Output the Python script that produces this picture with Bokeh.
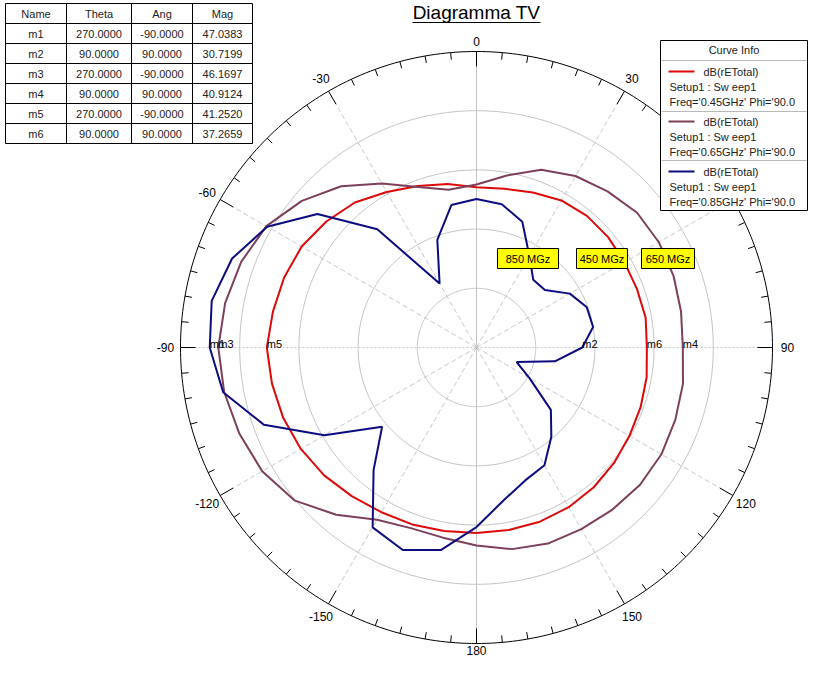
import numpy as np
from bokeh.plotting import figure
from bokeh.models import Range1d
from bokeh.core.properties import value
from bokeh.embed import file_html
from bokeh.resources import INLINE

# ---------------- data ----------------
theta_deg = list(range(-180, 180, 10))

red_db = [38.79, 38.89, 39.08, 39.28, 39.67, 40.16, 40.56, 40.85, 41.05, 41.252,
          40.95, 40.75, 40.46, 39.87, 39.18, 38.20, 37.41, 36.82, 36.23, 36.33,
          36.72, 37.21, 37.41, 37.41, 37.31, 37.31, 37.41, 37.2659, 37.51, 37.70,
          37.90, 38.20, 38.49, 38.69, 38.79, 38.79]
purple_db = [40.07, 39.57, 39.48, 40.16, 42.13, 44.10, 45.08, 45.57, 45.97, 46.1697,
             45.87, 45.38, 44.59, 43.11, 41.34, 39.18, 37.31, 36.23, 36.52, 37.70,
             39.18, 40.07, 40.66, 41.25, 41.34, 41.25, 41.05, 40.9124, 41.25, 41.44,
             41.64, 41.64, 41.44, 41.25, 41.15, 40.75]
blue_db = [38.20, 40.85, 41.84, 41.05, 36.23, 32.49, 37.80, 42.92, 46.07, 47.0383,
           47.25, 46.36, 44.49, 41.05, 35.64, 27.48, 31.61, 34.66, 35.05, 34.75,
           33.57, 30.72, 28.95, 29.05, 30.92, 31.90, 32.00, 30.7199, 28.07, 24.33,
           26.20, 29.84, 31.80, 33.77, 34.36, 35.74]

series_names = ["dB(rETotal)", "dB(rETotal)", "dB(rETotal)"]
series_freq = ["0.45GHz", "0.65GHz", "0.85GHz"]
series_tags = ["450 MGz", "650 MGz", "850 MGz"]

marker_names = ["m1", "m2", "m3", "m4", "m5", "m6"]
marker_theta = [270, 90, 270, 90, 270, 90]
marker_ang = [-90, 90, -90, 90, -90, 90]
marker_mag = [47.0383, 30.7199, 46.1697, 40.9124, 41.2520, 37.2659]

angle_labels = [0, 30, 60, 90, 120, 150, -150, -120, -90, -60, -30]
bottom_label = "180"
r_min, r_max = 20.0, 50.0
ring_values = [26, 32, 38, 44, 50]

# ---------------- geometry helpers ----------------
W, H = 811, 658
R_PX = 296.0
S = R_PX / (r_max - r_min)
CX, CY = 476, 347  # picture position of the polar centre


def pol(theta, db):
    t = np.radians(np.asarray(theta, dtype=float))
    r = (np.asarray(db, dtype=float) - r_min) * S
    return r * np.sin(t), r * np.cos(t)


def P(px, py):
    return px - CX, CY - py


p = figure(width=W, height=H, x_range=Range1d(-CX, W - CX),
           y_range=Range1d(CY - H, CY), output_backend="svg",
           toolbar_location=None, min_border=0, outline_line_color=None,
           background_fill_color="white", border_fill_color="white")
p.axis.visible = False
p.grid.visible = False

FONT = value("Liberation Sans")

# ---------------- grid ----------------
circ = np.linspace(0, 2 * np.pi, 361)
for rv in ring_values[:-1]:
    rr = (rv - r_min) * S
    p.line(rr * np.sin(circ), rr * np.cos(circ), line_color="#c4c4c4", line_width=1)

for a in range(0, 360, 30):
    ex, ey = pol(a, r_max)
    if a % 180 == 0:
        p.line([0, float(ex)], [0, float(ey)], line_color="#c4c4c4", line_width=1)
    elif a % 90 == 0:
        p.line([0, float(ex)], [0, float(ey)], line_color="#c4c4c4", line_width=1,
               line_dash="2 2")
    else:
        p.line([0, float(ex)], [0, float(ey)], line_color="#c8c8c8", line_width=1,
               line_dash="5 3")

# outer circle and ticks
p.line(R_PX * np.sin(circ), R_PX * np.cos(circ), line_color="black", line_width=1)
tick_deg = np.arange(0, 360, 5)
tick_a = np.radians(tick_deg)
tick_len = np.where(tick_deg % 30 == 0, 15.0, 7.0)
p.segment(x0=R_PX * np.sin(tick_a), y0=R_PX * np.cos(tick_a),
          x1=(R_PX - tick_len) * np.sin(tick_a), y1=(R_PX - tick_len) * np.cos(tick_a),
          line_color="black", line_width=1)

# angle labels
la = np.radians(np.array(angle_labels, dtype=float))
lr = np.array([R_PX + 10 if a == 0 else R_PX + 15 for a in angle_labels])
p.text(x=lr * np.sin(la), y=lr * np.cos(la), text=[str(a) for a in angle_labels],
       text_font=FONT, text_font_size="12px", text_align="center",
       text_baseline="middle", text_color="black")
p.text(x=[0], y=[CY - H + 4], text=[bottom_label], text_font=FONT,
       text_font_size="12px", text_align="center", text_baseline="bottom",
       text_color="black")

# ---------------- curves ----------------
colors = ["#dd0a0a", "#7d3f5c", "#0c0c80"]
for db, col in zip([red_db, purple_db, blue_db], colors):
    xs, ys = pol(theta_deg + [theta_deg[0]], db + [db[0]])
    p.line(xs, ys, line_color=col, line_width=2)

# marker labels
mx, my = pol(marker_theta, marker_mag)
p.text(x=mx, y=my + 4, text=marker_names, text_font=FONT, text_font_size="11px",
       text_align="left", text_baseline="middle", text_color="black")

# ---------------- yellow tags ----------------
tag_boxes = [(576, 627), (641, 694), (497, 558)]
for (x0, x1), t in zip(tag_boxes, series_tags):
    a0, b0 = P(x0, 248)
    a1, b1 = P(x1, 268)
    p.quad(left=a0, right=a1, top=b0, bottom=b1, fill_color="#ffff00",
           line_color="black", line_width=1)
    p.text(x=[(a0 + a1) / 2], y=[(b0 + b1) / 2], text=[t], text_font=FONT,
           text_font_size="11px", text_align="center", text_baseline="middle",
           text_color="black")

# ---------------- title ----------------
tx, ty = P(476, 12)
p.text(x=[tx], y=[ty], text=["Diagramma TV"], text_font=FONT, text_font_size="19px",
       text_align="center", text_baseline="middle", text_color="black")
u0 = P(412, 22)
u1 = P(540, 22)
p.segment(x0=[u0[0]], y0=[u0[1]], x1=[u1[0]], y1=[u1[1]], line_color="black",
          line_width=1)

# ---------------- legend box ----------------
lx0, lx1, ly0, ly1 = 660, 807, 40, 210
a0, b0 = P(lx0, ly0)
a1, b1 = P(lx1, ly1)
p.quad(left=a0, right=a1, top=b0, bottom=b1, fill_color="white", line_color="black",
       line_width=1)
hx, hy = P((lx0 + lx1) / 2, 49)
p.text(x=[hx], y=[hy], text=["Curve Info"], text_font=FONT, text_font_size="11px",
       text_align="center", text_baseline="middle", text_color="#222222")
for sep in (60, 111, 160):
    s0 = P(lx0 + 1, sep)
    s1 = P(lx1 - 1, sep)
    p.segment(x0=[s0[0]], y0=[s0[1]], x1=[s1[0]], y1=[s1[1]], line_color="#b8b8b8",
              line_width=1)
for i, (nm, fq, col) in enumerate(zip(series_names, series_freq, colors)):
    top = 60 + i * 50
    l0 = P(668, top + 11)
    l1 = P(694, top + 11)
    p.segment(x0=[l0[0]], y0=[l0[1]], x1=[l1[0]], y1=[l1[1]], line_color=col,
              line_width=2)
    t1 = P(703, top + 11)
    t2 = P(669, top + 26)
    t3 = P(669, top + 41)
    p.text(x=[t1[0], t2[0], t3[0]], y=[t1[1], t2[1], t3[1]],
           text=[nm, "Setup1 : Sw eep1", "Freq='" + fq + "' Phi='90.0"],
           text_font=FONT, text_font_size="11px", text_align="left",
           text_baseline="middle", text_color="#222222")

# ---------------- marker table ----------------
col_x = [5, 66, 131, 192, 252]
row_y0, row_h = 3, 20
n_rows = len(marker_names) + 1
tab_a = P(col_x[0], row_y0)
tab_b = P(col_x[-1], row_y0 + n_rows * row_h)
p.quad(left=tab_a[0], right=tab_b[0], top=tab_a[1], bottom=tab_b[1],
       fill_color="white", line_color="black", line_width=1)
for cx in col_x[1:-1]:
    s0 = P(cx, row_y0)
    s1 = P(cx, row_y0 + n_rows * row_h)
    p.segment(x0=[s0[0]], y0=[s0[1]], x1=[s1[0]], y1=[s1[1]], line_color="black")
for r in range(1, n_rows):
    s0 = P(col_x[0], row_y0 + r * row_h)
    s1 = P(col_x[-1], row_y0 + r * row_h)
    p.segment(x0=[s0[0]], y0=[s0[1]], x1=[s1[0]], y1=[s1[1]], line_color="black")

headers = ["Name", "Theta", "Ang", "Mag"]
rows = [headers] + [[n, "%.4f" % t, "%.4f" % a, "%.4f" % m]
                    for n, t, a, m in zip(marker_names, marker_theta, marker_ang, marker_mag)]
txs, tys, tts = [], [], []
for ri, row in enumerate(rows):
    for ci, cell in enumerate(row):
        cxp = (col_x[ci] + col_x[ci + 1]) / 2
        cyp = row_y0 + ri * row_h + row_h / 2
        q = P(cxp, cyp)
        txs.append(q[0]); tys.append(q[1]); tts.append(cell)
p.text(x=txs, y=tys, text=tts, text_font=FONT, text_font_size="11px",
       text_align="center", text_baseline="middle", text_color="#222222")

open("out.html", "w").write(file_html(p, INLINE))
